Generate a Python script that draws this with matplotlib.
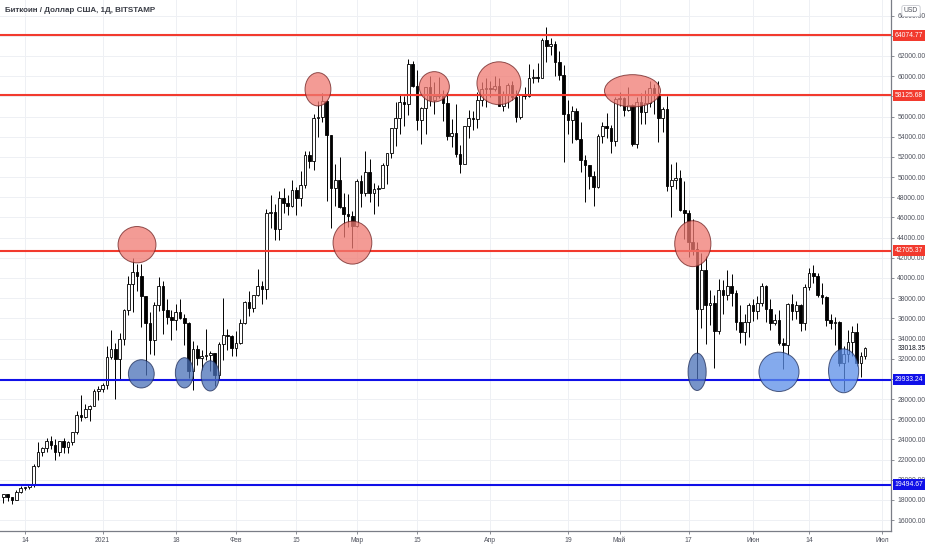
import pandas as pd
import matplotlib.pyplot as plt
import matplotlib.dates as mdates
from matplotlib.patches import Ellipse

# daily candles, BTC/USD Bitstamp, 9 Dec 2020 .. 27 Jun 2021
dates = pd.date_range('2020-12-09', '2021-06-27', freq='D')

closes = [
    18550, 18250, 18030, 18800, 19170, 19270, 19440, 21350, 22800, 23140, 23850, 23480, 22730,
    23810, 23230, 23720, 24690, 26440, 26250, 27040, 27360, 28840, 28970,
    # Jan
    29380, 32180, 32990, 32000, 33990, 36820, 39400, 40620, 40200, 38200, 35500, 33900, 37300,
    39200, 36800, 36150, 35800, 36620, 36050, 35500, 30820, 33000, 32080, 32270, 32360, 32560,
    30420, 33440, 34300, 34280, 33110,
    # Feb
    33520, 35500, 37660, 36990, 38300, 39250, 38880, 46450, 46510, 44840, 47970, 47460, 47160,
    48720, 47950, 49180, 52160, 51640, 55900, 55920, 57500, 54140, 48880, 49710, 47070, 46340,
    46160, 45200,
    # Mar
    49620, 48390, 50500, 48380, 48780, 48900, 51210, 52340, 54880, 55870, 57460, 57270, 61200,
    59000, 55630, 56880, 58920, 57650, 58030, 58100, 57360, 54100, 54340, 52300, 51300, 55090,
    55840, 55780, 57630, 58740, 58820,
    # Apr
    58730, 58990, 57080, 58200, 59120, 57950, 56000, 58100, 58080, 59780, 59960, 59840, 63580,
    62960, 63230, 61440, 60100, 56240, 55680, 56500, 53800, 51700, 51150, 50100, 49020, 54030,
    55040, 54850, 53570, 57730,
    # May
    57830, 56620, 57190, 53250, 57480, 56420, 57380, 58860, 58250, 55860, 56700, 49150, 49700,
    49900, 46760, 46450, 43540, 42900, 36970, 40780, 37300, 37540, 34700, 38800, 38330, 39240,
    38480, 35680, 34620, 35670, 37300,
    # Jun
    36690, 37570, 39190, 36880, 35540, 35800, 33570, 33380, 37380, 36690, 37340, 35550, 39100,
    40530, 40160, 38340, 38080, 35820, 35490, 35600, 31620, 32510, 33680, 34660, 31590, 32250,
    33018.35,
]

highs = [
    18640, 18560, 18280, 18950, 19400, 19330, 19570, 21560, 23770, 23280, 24170, 24300, 24080,
    23830, 24140, 23800, 24780, 26850, 28400, 27500, 27400, 28950, 29300,
    29600, 33300, 34800, 33600, 34500, 36900, 40200, 41950, 41350, 41400, 38200, 36600, 37600,
    40100, 39700, 37900, 36800, 37400, 37900, 36400, 35600, 33800, 33400, 32900, 34900, 32800,
    32560, 33700, 38000, 34900, 34300,
    34700, 35900, 37700, 38700, 38300, 40900, 39700, 46800, 48200, 47300, 48600, 48900, 48200,
    49700, 49000, 50600, 52600, 52600, 56300, 57500, 58350, 57600, 54200, 51300, 52000, 48400,
    48300, 46600,
    49800, 50200, 52600, 51800, 49400, 49200, 51400, 52400, 54900, 57400, 58100, 58000, 61700,
    61500, 60600, 56900, 58900, 60000, 59400, 59900, 58600, 58400, 55800, 57200, 53200, 55100,
    56600, 56500, 58400, 59400, 59800,
    59500, 60000, 59800, 58500, 59300, 59500, 58600, 58200, 58900, 61200, 60700, 61300, 63800,
    64900, 63800, 63500, 62500, 61100, 57600, 57000, 56800, 55500, 52200, 51200, 50600, 54300,
    55500, 56400, 55200, 57900,
    58400, 57900, 58900, 57200, 57900, 58300, 58600, 59500, 59200, 59500, 56900, 58000, 51300,
    51500, 50700, 49600, 46700, 45800, 43600, 42500, 42200, 38800, 38300, 39900, 39800, 40800,
    40400, 38800, 37300, 36400, 37500,
    37900, 38200, 39500, 39300, 37900, 36400, 36800, 34100, 37500, 38400, 37700, 37400, 39400,
    41000, 41300, 40500, 39500, 38200, 36400, 36100, 35700, 33300, 34800, 35200, 35500, 32700,
    33200,
]

lows = [
    17650, 17910, 17570, 18020, 18720, 19000, 19050, 19300, 21230, 22350, 22800, 23080, 22000,
    22380, 22700, 22700, 23430, 24510, 25850, 26100, 25850, 27320, 27900,
    28700, 28950, 32000, 28000, 29900, 33350, 36300, 36600, 38700, 35100, 30400, 32500, 32400,
    36700, 34400, 35400, 33900, 34800, 35900, 33400, 30100, 28850, 31400, 30900, 31900, 30800,
    29250, 29900, 31900, 32900, 32300,
    32300, 33450, 35400, 36200, 36600, 38200, 37400, 37900, 45000, 43800, 43800, 46400, 46200,
    47000, 46200, 47100, 48900, 50900, 50700, 54000, 55500, 47600, 45000, 47100, 46900, 44100,
    45100, 43000,
    45100, 47000, 48100, 47500, 46300, 47100, 48900, 49300, 51900, 53100, 54300, 55100, 56200,
    58900, 54700, 53300, 54300, 57000, 56300, 57800, 55600, 53700, 53000, 52000, 50400, 51300,
    53900, 54700, 54900, 57000, 56900,
    57900, 58500, 57000, 56500, 56800, 57600, 55500, 55800, 57700, 57900, 59300, 59400, 59800,
    61400, 62100, 60000, 59600, 51500, 54300, 53400, 53700, 50500, 47500, 48800, 47100, 48900,
    53400, 53900, 52400, 53100,
    57000, 56100, 56500, 53100, 52900, 55300, 55300, 56900, 56300, 53500, 54500, 48600, 46000,
    48800, 46600, 43900, 42100, 42300, 30000, 35000, 33500, 35300, 31100, 34400, 36400, 37800,
    37200, 34800, 33600, 33400, 34200,
    35700, 35900, 37200, 35600, 34800, 35300, 33400, 31000, 32400, 35800, 35900, 34700, 34800,
    38800, 39500, 38100, 37400, 35200, 34900, 33400, 31300, 28800, 31700, 32300, 31300, 30200,
    32000,
]

opens = [18320] + closes[:-1]

# horizontal levels drawn on the chart
red_levels = [64074.77, 58125.68, 42705.37]
blue_levels = [29933.24, 19494.67]
last_price = 33018.35

# marker ellipses: (date, price, width in days, height in USD)
red_marks = [
    ('2021-01-09', 43300, 8.8, 3600),
    ('2021-02-20', 58700, 6.0, 3300),
    ('2021-02-28', 43500, 9.0, 4250),
    ('2021-03-19', 58950, 7.0, 3000),
    ('2021-04-03', 59300, 10.2, 4250),
    ('2021-05-04', 58550, 13.0, 3200),
    ('2021-05-18', 43400, 8.4, 4550),
]
blue_marks = [
    ('2021-01-10', 30500, 6.0, 2800, '#4a70b8'),
    ('2021-01-20', 30600, 4.2, 3000, '#4a70b8'),
    ('2021-01-26', 30300, 4.2, 3000, '#4a70b8'),
    ('2021-05-19', 30700, 4.2, 3700, '#4a70b8'),
    ('2021-06-07', 30700, 9.3, 3900, '#5b8ee8'),
    ('2021-06-22', 30800, 7.0, 4350, '#5b8ee8'),
]

tick_dates = ['2020-12-14', '2021-01-01', '2021-01-18', '2021-02-01', '2021-02-15', '2021-03-01',
              '2021-03-15', '2021-04-01', '2021-04-19', '2021-05-01', '2021-05-17', '2021-06-01',
              '2021-06-14', '2021-07-01']
tick_labels = ['14', '2021', '18', 'Фев', '15', 'Мар', '15', 'Апр', '19', 'Май', '17', 'Июн', '14', 'Июл']

# price scale labels; the ones hidden under the level boxes are left out
price_ticks = list(range(16000, 67000, 2000))
hidden_ticks = [30000, 58000, 64000]

grid_col = '#eef0f4'
axis_col = '#7a7d86'
lab_col = '#50535e'
small = dict(family=['Liberation Sans', 'DejaVu Sans'], size=4.9)

fig = plt.figure(figsize=(9.32, 5.5), dpi=100)
ax = fig.add_axes([0, 19 / 550, 891 / 932, 531 / 550])

x = mdates.date2num(dates)
for xi, o, h, l, c in zip(x, opens, highs, lows, closes):
    up = c >= o
    ax.vlines(xi, l, h, color='black', linewidth=0.7, zorder=2)
    ax.bar(xi, max(abs(c - o), 60), bottom=min(o, c), width=0.62,
           color='white' if up else 'black', edgecolor='black', linewidth=0.6, zorder=3)

for lv in red_levels:
    ax.axhline(lv, color='#f23a2e', linewidth=1.5, zorder=4)
for lv in blue_levels:
    ax.axhline(lv, color='#1010e8', linewidth=1.5, zorder=4)

for d, p, w, h in red_marks:
    ax.add_patch(Ellipse((mdates.date2num(pd.Timestamp(d)), p), w, h, facecolor='#f07a72',
                         alpha=0.75, edgecolor='#6b1d1d', linewidth=0.7, zorder=5))
for d, p, w, h, col in blue_marks:
    ax.add_patch(Ellipse((mdates.date2num(pd.Timestamp(d)), p), w, h, facecolor=col,
                         alpha=0.75, edgecolor='#1c2a55', linewidth=0.7, zorder=5))

# axes limits chosen so the layout matches the screenshot
x0 = mdates.date2num(pd.Timestamp('2021-03-01'))
ax.set_xlim(x0 - 82.8, x0 + 124.0)
ax.set_ylim(14924, 67550)

ax.set_xticks([mdates.date2num(pd.Timestamp(d)) for d in tick_dates])
ax.set_xticklabels(tick_labels, color=lab_col, **small)
ax.set_yticks(price_ticks)
ax.yaxis.tick_right()
ax.set_yticklabels(['' if v in hidden_ticks else f'{v:.2f}' for v in price_ticks],
                   color=lab_col, **small)
ax.tick_params(axis='both', length=2.5, width=0.6, color=axis_col, pad=2)
ax.grid(True, color=grid_col, linewidth=0.7, zorder=0)
ax.set_axisbelow(True)
for side in ['top', 'left']:
    ax.spines[side].set_visible(False)
for side in ['right', 'bottom']:
    ax.spines[side].set_color(axis_col)
    ax.spines[side].set_linewidth(0.9)

# price labels on the scale
tr = ax.get_yaxis_transform()
for lv in red_levels:
    ax.text(1.004, lv, f'{lv:.2f}', transform=tr, ha='left', va='center', color='white',
            clip_on=False, zorder=10, bbox=dict(boxstyle='square,pad=0.3', facecolor='#f23a2e',
                                                 edgecolor='none'), **small)
for lv in blue_levels:
    ax.text(1.004, lv, f'{lv:.2f}', transform=tr, ha='left', va='center', color='white',
            clip_on=False, zorder=10, bbox=dict(boxstyle='square,pad=0.3', facecolor='#1010e8',
                                                 edgecolor='none'), **small)
ax.text(1.008, last_price, f'{last_price:.2f}', transform=tr, ha='left', va='center',
        color='#131722', clip_on=False, zorder=10, **small)

fig.text(5 / 932, 1 - 11 / 550, 'Биткоин / Доллар США, 1Д, BITSTAMP', ha='left', va='center',
         color='#3a3d46', family=['Liberation Sans', 'DejaVu Sans'], size=5.8, weight='bold')
fig.text(911 / 932, 1 - 11 / 550, 'USD', ha='center', va='center', color=lab_col, zorder=20,
         bbox=dict(boxstyle='round,pad=0.3', facecolor='white', edgecolor='#c8cad0', linewidth=0.6),
         **small)

fig.savefig('out.png', dpi=100)
